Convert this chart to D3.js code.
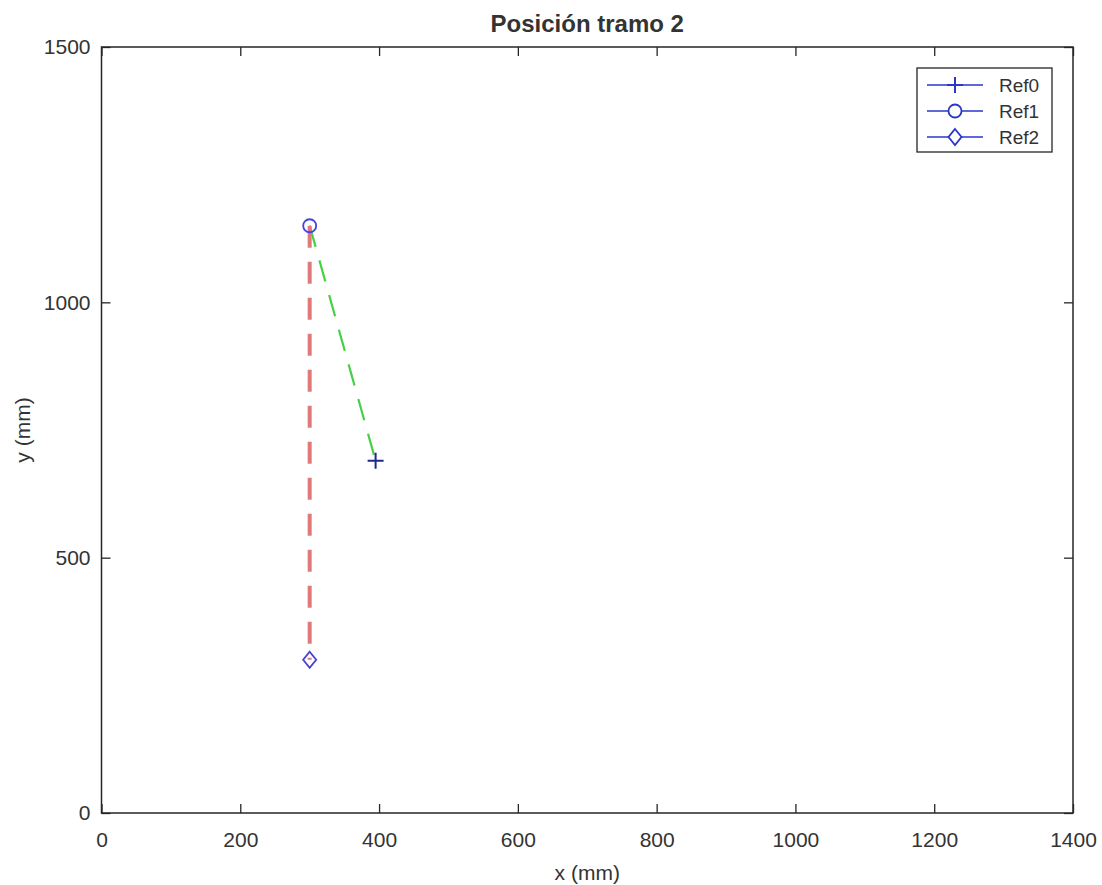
<!DOCTYPE html>
<html>
<head>
<meta charset="utf-8">
<script src="https://cdn.jsdelivr.net/npm/d3@7"></script>
<style>
  body { margin: 0; background: #fff; }
  text { font-family: "Liberation Sans", Arial, sans-serif; fill: #333; }
</style>
</head>
<body>
<div id="chart"></div>
<script>
// reference points (mm)
const refNames = ["Ref0", "Ref1", "Ref2"];
const refX = [395, 300, 300];
const refY = [690, 1150, 300];
const refShapes = ["plus", "circle", "diamond"];

// segments between references
const segFrom = [1, 1];
const segTo = [0, 2];
const segColors = ["#45d145", "#e07a7a"];
const segWidths = [2.2, 4];

const xTicks = [0, 200, 400, 600, 800, 1000, 1200, 1400];
const yTicks = [0, 500, 1000, 1500];

const width = 1102, height = 885;
const margin = { top: 47, right: 29, bottom: 72, left: 101.5 };
const innerW = width - margin.left - margin.right;
const innerH = height - margin.top - margin.bottom;

const svg = d3.select("#chart").append("svg")
  .attr("width", width)
  .attr("height", height);

const g = svg.append("g")
  .attr("transform", `translate(${margin.left},${margin.top})`);

const x = d3.scaleLinear().domain([0, 1400]).range([0, innerW]);
const y = d3.scaleLinear().domain([0, 1500]).range([innerH, 0]);
const fmt = d3.format("d");

// axes with inward ticks on all four sides
const tickLen = 9;
g.append("g").attr("transform", `translate(0,${innerH})`)
  .call(d3.axisBottom(x).tickValues(xTicks).tickFormat(fmt).tickSizeInner(-tickLen).tickSizeOuter(0).tickPadding(19));
g.append("g")
  .call(d3.axisTop(x).tickValues(xTicks).tickSizeInner(-tickLen).tickSizeOuter(0).tickFormat(""));
g.append("g")
  .call(d3.axisLeft(y).tickValues(yTicks).tickFormat(fmt).tickSizeInner(-tickLen).tickSizeOuter(0).tickPadding(11));
g.append("g").attr("transform", `translate(${innerW},0)`)
  .call(d3.axisRight(y).tickValues(yTicks).tickSizeInner(-tickLen).tickSizeOuter(0).tickFormat(""));

g.selectAll(".domain").remove();
g.selectAll(".tick line").attr("stroke", "#262626").attr("stroke-width", 1.3);
g.selectAll(".tick text")
  .style("font-size", "21px")
  .attr("fill", "#333");

// box
g.append("rect")
  .attr("width", innerW).attr("height", innerH)
  .attr("fill", "none").attr("stroke", "#262626").attr("stroke-width", 1.5);

// title and labels
svg.append("text")
  .attr("x", margin.left + innerW / 2).attr("y", 32)
  .attr("text-anchor", "middle")
  .style("font-size", "24px").style("font-weight", "bold")
  .attr("fill", "#1a1a1a")
  .text("Posición tramo 2");

svg.append("text")
  .attr("x", margin.left + innerW / 2).attr("y", 880)
  .attr("text-anchor", "middle")
  .style("font-size", "21px")
  .text("x (mm)");

svg.append("text")
  .attr("transform", `translate(30,${margin.top + innerH / 2}) rotate(-90)`)
  .attr("text-anchor", "middle")
  .style("font-size", "21px")
  .text("y (mm)");

// dashed segments
g.selectAll("line.seg")
  .data(segFrom.map((f, i) => ({ f, t: segTo[i], i })))
  .join("line")
  .attr("class", "seg")
  .attr("x1", d => x(refX[d.f])).attr("y1", d => y(refY[d.f]))
  .attr("x2", d => x(refX[d.t])).attr("y2", d => y(refY[d.t]))
  .attr("stroke", d => segColors[d.i])
  .attr("stroke-width", d => segWidths[d.i])
  .attr("stroke-dasharray", "22,14");

// marker drawing helper
function drawMarker(sel, shape, color, bg) {
  if (shape === "plus") {
    sel.append("path").attr("d", "M-8,0H8M0,-8V8")
      .attr("stroke", color).attr("stroke-width", 2).attr("fill", "none");
  } else if (shape === "circle") {
    sel.append("circle").attr("r", 6.5)
      .attr("stroke", color).attr("stroke-width", 1.8).attr("fill", bg || "none");
  } else {
    sel.append("path").attr("d", "M0,-8L6.5,0L0,8L-6.5,0Z")
      .attr("stroke", color).attr("stroke-width", 1.8).attr("fill", bg || "none");
  }
}

const markerColors = ["#1c2a8a", "#4444dd", "#4a3fd0"];
refNames.forEach((n, i) => {
  const m = g.append("g").attr("transform", `translate(${x(refX[i])},${y(refY[i])})`);
  drawMarker(m, refShapes[i], markerColors[i]);
});

// legend
const legend = svg.append("g").attr("transform", "translate(917,68)");
legend.append("rect")
  .attr("width", 135).attr("height", 84)
  .attr("fill", "#fff").attr("stroke", "#262626").attr("stroke-width", 1.3);

refNames.forEach((n, i) => {
  const row = legend.append("g").attr("transform", `translate(0,${17 + i * 26})`);
  row.append("line").attr("x1", 10).attr("x2", 66)
    .attr("stroke", "#2a36c8").attr("stroke-width", 1.6);
  const m = row.append("g").attr("transform", "translate(38,0)");
  drawMarker(m, refShapes[i], "#2a36c8", "#fff");
  row.append("text").attr("x", 82).attr("y", 7)
    .style("font-size", "19px")
    .text(n);
});
</script>
</body>
</html>
